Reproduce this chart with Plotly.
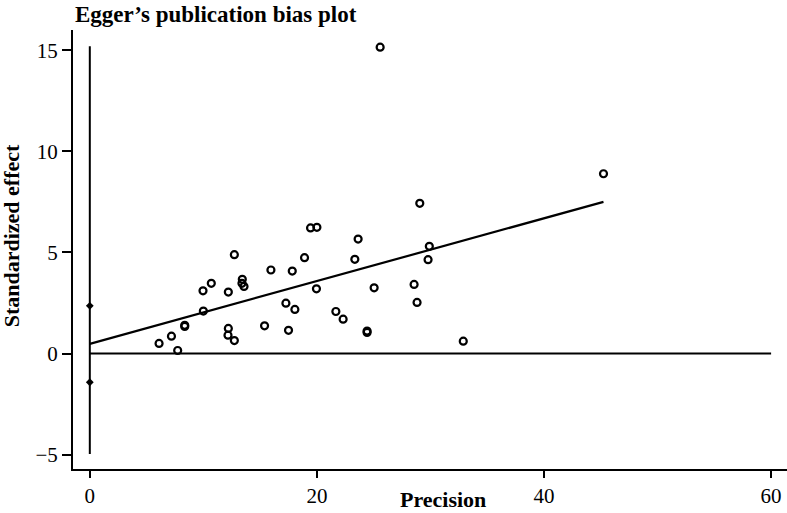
import plotly.graph_objects as go

# Study precision (1/SE) and standardized effect (effect/SE)
precision = [6.10, 7.19, 7.74, 8.36, 8.36, 9.97, 10.70, 10.00, 12.20, 12.73,
             12.20, 12.17, 12.73, 13.43, 13.40, 13.58, 15.39, 15.95, 17.83, 17.27,
             18.06, 17.50, 18.91, 19.44, 20.00, 19.96, 21.67, 22.31, 23.63, 23.34,
             24.42, 24.42, 25.04, 25.57, 29.06, 29.90, 29.79, 28.56, 28.82, 32.89,
             45.24]
std_effect = [0.50, 0.86, 0.15, 1.40, 1.34, 3.10, 3.47, 2.10, 3.04, 4.89,
              1.24, 0.91, 0.64, 3.67, 3.47, 3.32, 1.37, 4.13, 4.08, 2.49,
              2.18, 1.15, 4.74, 6.21, 6.24, 3.20, 2.08, 1.70, 5.66, 4.66,
              1.11, 1.04, 3.25, 15.15, 7.43, 5.30, 4.64, 3.42, 2.53, 0.61,
              8.89]

# Egger regression fit
intercept = 0.48
slope = 0.1552
# Confidence interval line for the intercept (drawn at precision 0)
ci_line = [-4.97, 15.2]
ci_marks = [2.36, -1.42]

x_ticks = [0, 20, 40, 60]
y_ticks = [-5, 0, 5, 10, 15]

fit_x = [0, max(precision)]
fit_y = [intercept + slope * v for v in fit_x]

serif = "Liberation Serif"

fig = go.Figure()
# zero reference line
fig.add_trace(go.Scatter(x=[0, 60], y=[0, 0], mode="lines",
                         line=dict(color="black", width=2), hoverinfo="skip"))
# intercept CI vertical line
fig.add_trace(go.Scatter(x=[0, 0], y=ci_line, mode="lines",
                         line=dict(color="black", width=2), hoverinfo="skip"))
fig.add_trace(go.Scatter(x=[0] * len(ci_marks), y=ci_marks, mode="markers",
                         marker=dict(symbol="diamond", size=6, color="black"),
                         hoverinfo="skip"))
# fitted line
fig.add_trace(go.Scatter(x=fit_x, y=fit_y, mode="lines",
                         line=dict(color="black", width=2.2)))
# studies
fig.add_trace(go.Scatter(x=precision, y=std_effect, mode="markers",
                         marker=dict(symbol="circle-open", size=7, color="black",
                                     line=dict(width=2.2, color="black"))))

fig.update_layout(
    width=787, height=513,
    margin=dict(l=72.5, r=0, t=30, b=44),
    paper_bgcolor="white", plot_bgcolor="white",
    showlegend=False,
    font=dict(family=serif, color="black", size=21),
    xaxis=dict(range=[-1.48, 61.4], tickvals=x_ticks, showgrid=False, zeroline=False,
               showline=True, linecolor="black", linewidth=2,
               ticks="outside", ticklen=7, tickwidth=1.5, tickcolor="black",
               tickfont=dict(family=serif, size=21, color="black")),
    yaxis=dict(range=[-5.71, 16.0], tickvals=y_ticks, showgrid=False, zeroline=False,
               showline=True, linecolor="black", linewidth=2,
               ticks="outside", ticklen=9, tickwidth=1.5, tickcolor="black",
               tickfont=dict(family=serif, size=21, color="black")),
    annotations=[
        dict(text="<b>Egger’s publication bias plot</b>", xref="paper", yref="paper",
             x=0, y=1, xanchor="left", yanchor="middle", yshift=16, showarrow=False,
             font=dict(family=serif, size=23, color="black")),
        dict(text="<b>Precision</b>", xref="paper", yref="paper",
             x=0.518, y=0, xanchor="center", yanchor="middle", yshift=-30,
             showarrow=False, font=dict(family=serif, size=22, color="black")),
        dict(text="<b>Standardized effect</b>", xref="paper", yref="paper",
             x=0, y=0.53, xanchor="center", yanchor="middle", xshift=-62,
             textangle=-90, showarrow=False,
             font=dict(family=serif, size=22, color="black")),
    ],
)

fig.write_html("out.html",
               config={"displayModeBar": False},
               post_script="document.body.style.margin='0';"
                           "document.body.style.overflow='hidden';")
